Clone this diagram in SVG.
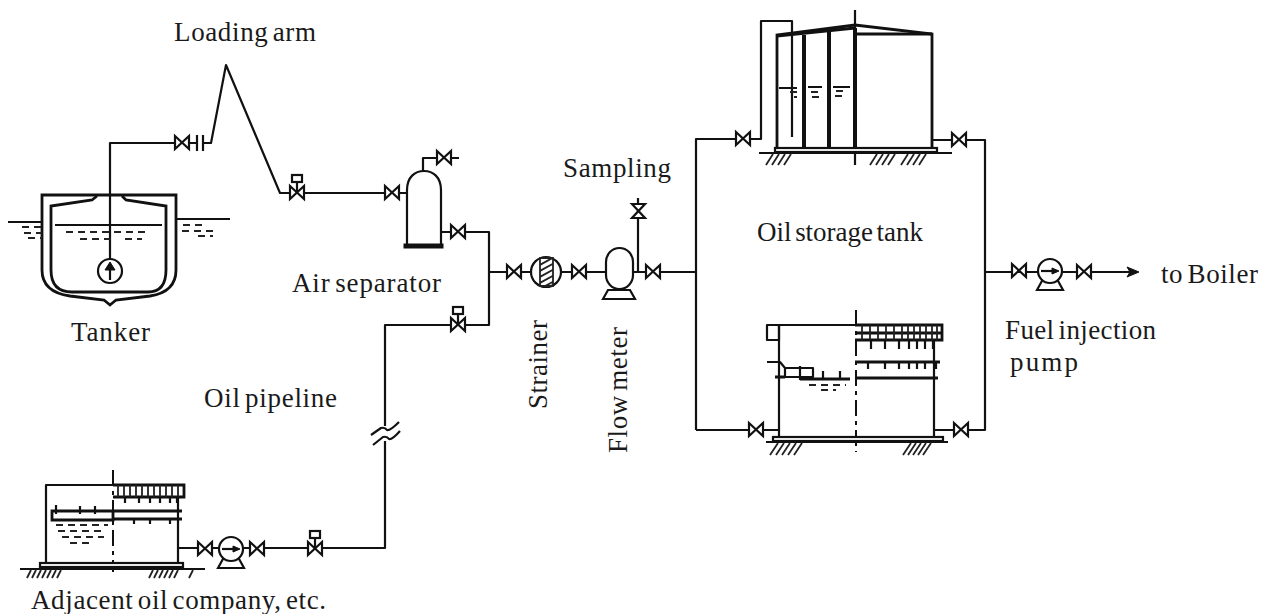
<svg xmlns="http://www.w3.org/2000/svg" width="1271" height="614" viewBox="0 0 1271 614">
<style>
text{font-family:"Liberation Serif","Times New Roman",serif;font-size:27px;word-spacing:-3px;fill:#1a1a1a}
.l{fill:none;stroke:#111;stroke-width:2.2;stroke-linejoin:round}
.m{fill:none;stroke:#222;stroke-width:1.8}
.t{fill:none;stroke:#111;stroke-width:2.8}
.x{fill:none;stroke:#111;stroke-width:4}
.h{fill:#fff;stroke:#111;stroke-width:2.2}
.f{fill:#111;stroke:#111;stroke-width:1}
.d{fill:none;stroke:#222;stroke-width:1.8;stroke-dasharray:7 5}
.c{fill:none;stroke:#111;stroke-width:2;stroke-dasharray:16 5 4 5}
</style>
<defs>
<g id="v"><path class="h" d="M-7,-7 L7,6 L7,-7 L-7,6 Z"/></g>
<g id="va"><path class="h" d="M-7,-7 L7,6 L7,-7 L-7,6 Z"/><path class="l" d="M0,0 V-11"/><rect class="h" x="-5" y="-18" width="10" height="7"/></g>
<g id="p"><path class="h" d="M-13,19 L-7,8 H7 L13,19 Z"/><circle class="h" cx="0" cy="0" r="12"/><path class="l" d="M-9,0 H5"/><path class="f" d="M9,0 L2,-3 V3 Z"/></g>
<clipPath id="band"><rect x="540" y="258" width="13" height="28"/></clipPath>
</defs>

<g id="connectors">
<path class="l" d="M110,271 V143 H176"/>
<path class="l" d="M189,143 H197 M203,143 H211 L226,65 L280,193 H407"/>
<path class="l" d="M423,171 V158 H459"/>
<path class="l" d="M441,232 H489 V325 H385 V426 M385,441 V548 H178"/>
<path class="l" d="M489,272 H531 M561,272 H606 M634,272 H696"/>
<path class="l" d="M638,272 V198"/>
<path class="l" d="M696,430 V139 H761 V21 H792 V137"/>
<path class="l" d="M696,430 H779"/>
<path class="l" d="M932,140 H985 V430 H934"/>
<path class="l" d="M985,272 H1130"/>
<path class="f" d="M1139,272 L1127,267 L1130,272 L1127,277 Z"/>
<path class="l" d="M371,435 L381,428 Q385,427 387,430 Q390,431 399,422 M373,445 L383,437 Q387,436 389,439 Q392,440 400,431"/>
</g>

<g id="valves">
<use href="#v" x="182" y="143"/>
<use href="#va" x="297" y="193"/>
<use href="#v" x="392" y="193"/>
<use href="#v" x="444" y="158"/>
<use href="#v" x="458" y="232"/>
<use href="#va" x="458" y="325"/>
<use href="#v" x="514" y="272"/>
<use href="#v" x="579" y="272"/>
<use href="#v" x="653" y="272"/>
<path class="h" d="M632,204 L645,218 H632 L645,204 Z"/>
<use href="#v" x="743" y="139"/>
<use href="#v" x="959" y="140"/>
<use href="#v" x="756" y="430"/>
<use href="#v" x="961" y="430"/>
<use href="#v" x="1019" y="271"/>
<use href="#v" x="1084" y="272"/>
<use href="#v" x="205" y="549"/>
<use href="#v" x="257" y="549"/>
<use href="#va" x="315" y="549"/>
<path class="l" d="M197,135 V151 M203,135 V151"/>
</g>

<g id="tanker">
<path class="t" d="M42,195 H176 V270 Q176,292 150,296 L116,300 L110,305 L104,300 L70,296 Q42,292 42,270 Z"/>
<path class="t" d="M97,196 L92,200 L51,206 V270 Q51,292 72,292 H148 Q166,292 166,270 V206 L126,200 L122,196"/>
<path class="l" d="M55,225 H162 M8,222 H42 M177,219 H230"/>
<path class="d" d="M22,227 H42 M24,233 H42 M28,238 H42 M66,232 H148 M80,239 H112 M125,239 H142 M183,225 H205 M182,231 H215 M198,236 H213"/>
<circle class="h" cx="110" cy="271" r="12"/>
<path class="l" d="M110,280 V266"/>
<path class="f" d="M110,262 L105,270 H115 Z"/>
</g>

<g id="air-separator">
<path class="h" d="M407,245 V190 C407,177 415,171 424,171 C433,171 441,177 441,190 V245"/>
<rect class="f" x="404" y="244" width="39" height="4"/>
</g>

<g id="strainer">
<circle class="h" cx="546" cy="272" r="15"/>
<path class="m" d="M540,258 H553 V286 H540 Z" stroke-width="1"/>
<path class="m" clip-path="url(#band)" d="M538,266 L556,256 M538,272 L556,262 M538,278 L556,268 M538,284 L556,274 M538,290 L556,280 M538,296 L556,286"/>
</g>

<g id="flow-meter">
<path class="h" d="M603,299 L608,290 H630 L635,299 Z"/>
<rect class="h" x="606" y="248" width="27" height="41" rx="13.5" ry="14"/>
</g>

<g id="upper-tank">
<path class="t" d="M777,148 V35 L855,25 L932,34 V148"/>
<path class="t" d="M777,36 L855,28 M855,34 H932"/>
<path class="x" d="M804,35 V148 M829,32 V148"/>
<path class="l" d="M779,88 H797 M808,87 H822 M833,87 H850"/>
<path class="d" d="M790,92 H797 M794,97 H797 M811,92 H820 M812,97 H820 M836,91 H845 M835,96 H842"/>
<path class="x" d="M855,28 V148"/>
<path class="l" d="M855,10 V165"/>
<rect class="h" x="775" y="148" width="162" height="4"/>
<path class="l" d="M759,153 H952"/>
<path class="m" d="M773,154 L766,165 M779,154 L772,165 M785,154 L778,165 M791,154 L784,165 M877,154 L870,165 M883,154 L876,165 M889,154 L882,165 M895,154 L888,165 M908,154 L901,165 M914,154 L907,165 M920,154 L913,165 M926,154 L919,165"/>
</g>

<g id="lower-tank">
<path class="l" d="M779,437 V325 H942 M934,340 V437"/>
<rect class="l" x="767" y="325" width="12" height="15"/>
<path class="t" d="M855,325 H942 V340 H855 M855,333 H942 M855,362 H940 M855,378 H938"/>
<path class="m" d="M862,325 V340 M870,325 V340 M878,325 V340 M886,325 V340 M894,325 V340 M902,325 V340 M908,325 V340 M914,325 V340 M920,325 V340 M926,325 V340 M932,325 V340 M937,325 V340"/>
<path class="l" d="M871,340 V349 M885,340 V349 M899,340 V349 M909,340 V349 M917,340 V349 M925,340 V349 M933,340 V349 M868,362 V369 M885,362 V369 M899,362 V369 M909,362 V369 M917,362 V369 M925,362 V369 M936,362 V369"/>
<path class="l" d="M767,362 H780 L785,368 H813 V377 H785 V368"/>
<path class="t" d="M775,377 H785 M800,379 H850"/>
<path class="l" d="M800,366 V380 M823,371 V380 M840,371 V380"/>
<path class="d" d="M809,385 H846 M821,390 H836"/>
<path class="c" d="M856,310 V452"/>
<rect class="h" x="773" y="437" width="170" height="4"/>
<path class="l" d="M766,442 H948"/>
<path class="m" d="M778,443 L770,455 M784,443 L776,455 M790,443 L782,455 M796,443 L788,455 M802,443 L794,455 M911,443 L903,455 M916,443 L908,455 M921,443 L913,455 M926,443 L918,455 M931,443 L923,455"/>
</g>

<g id="fuel-pump"><use href="#p" x="1050" y="271"/></g>
<g id="company-pump"><use href="#p" x="231" y="549"/></g>

<g id="adjacent-tank">
<path class="l" d="M46,563 V485 H184 M178,497 V563 H46"/>
<path class="t" d="M113,485 H184 V497 H113 M52,511 H113 V520 H52 Z M113,511 H182 M113,519 H182"/>
<path class="m" d="M118,485 V497 M124,485 V497 M130,485 V497 M136,485 V497 M142,485 V497 M148,485 V497 M154,485 V497 M160,485 V497 M166,485 V497 M172,485 V497 M178,485 V497"/>
<path class="l" d="M125,497 V503 M139,497 V503 M150,497 V503 M160,497 V503 M170,497 V503 M177,497 V503 M56,505 V514 M80,506 V514 M95,506 V514 M134,519 V524 M150,519 V524 M170,519 V524"/>
<path class="d" d="M56,525 H108 M58,531 H104 M62,537 H104 M70,543 H94"/>
<path class="c" d="M113,470 V572"/>
<rect class="h" x="40" y="563" width="143" height="4"/>
<path class="l" d="M20,569 H205"/>
<path class="m" d="M31,570 L27,578 M36,570 L32,578 M41,570 L37,578 M46,570 L42,578 M51,570 L47,578 M56,570 L52,578 M61,570 L57,578 M153,570 L149,578 M158,570 L154,578 M163,570 L159,578 M168,570 L164,578 M173,570 L169,578 M178,570 L174,578 M193,570 L189,578"/>
</g>

<g id="labels">
<text x="174" y="41" textLength="142">Loading arm</text>
<text x="71" y="341" textLength="79">Tanker</text>
<text x="292" y="292" textLength="149">Air separator</text>
<text x="204" y="407" textLength="133">Oil pipeline</text>
<text x="563" y="177" textLength="108">Sampling</text>
<text x="757" y="241" textLength="166">Oil storage tank</text>
<text x="1161" y="283" textLength="97">to Boiler</text>
<text x="1005" y="339" textLength="151">Fuel injection</text>
<text x="1010" y="371" textLength="68">pump</text>
<text x="31" y="609" textLength="295">Adjacent oil company, etc.</text>
<text transform="translate(547,409) rotate(-90)" textLength="89">Strainer</text>
<text transform="translate(627,453) rotate(-90)" textLength="126">Flow meter</text>
</g>
</svg>
